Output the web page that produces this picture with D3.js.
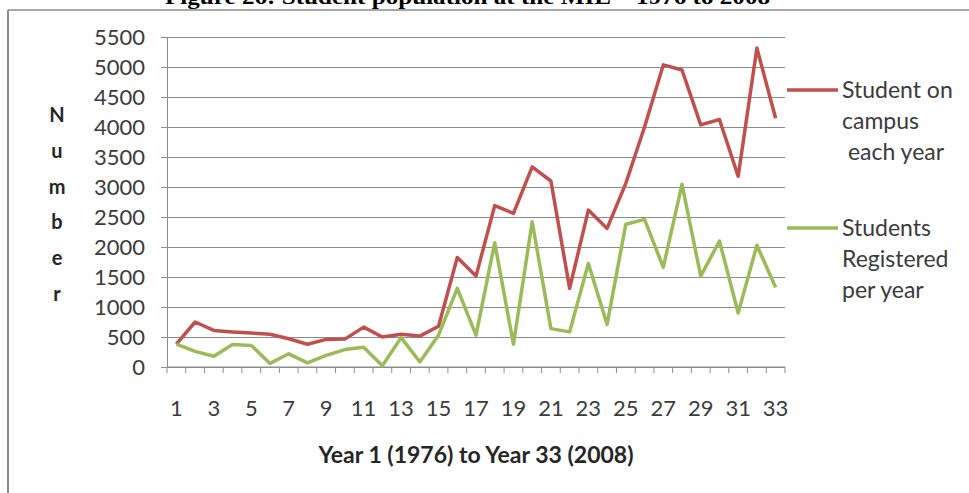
<!DOCTYPE html>
<html>
<head>
<meta charset="utf-8">
<script src="https://cdn.jsdelivr.net/npm/d3@7"></script>
<style>
  body { margin: 0; background: #fff; }
  svg { display: block; }
</style>
</head>
<body>
<div id="chart"></div>
<script>
// values
const years = d3.range(1, 34);
const onCampus = [380, 750, 610, 585, 565, 545, 470, 380, 460, 465, 665, 500, 545, 515, 680,
    1825, 1515, 2690, 2560, 3335, 3100, 1310, 2615, 2310, 3060, 4000, 5035, 4950, 4035, 4125,
    3180, 5315, 4145];
const registered = [380, 260, 180, 375, 360, 60, 220, 70, 195, 290, 330, 20, 490, 85, 530,
    1310, 530, 2070, 380, 2420, 640, 585, 1725, 710, 2380, 2460, 1660, 3045, 1515, 2100,
    900, 2030, 1325];
const yTicks = d3.range(0, 5501, 500);
const xLabels = years.filter((d) => d % 2 === 1);
const seriesNames = [['Student on', 'campus', '\u00a0each year'], ['Students', 'Registered', 'per year']];
const seriesColors = ['#c0504d', '#9bbb59'];
const yTitle = ['N', 'u', 'm', 'b', 'e', 'r'];

const width = 969;
const height = 493;
const font = 'Lato, "Open Sans", sans-serif';
const textColor = '#3b3b3b';

const svg = d3.select('#chart')
    .append('svg')
    .attr('width', width)
    .attr('height', height);

// frame and the caption above it (cut off at the top, as in the source)
svg.append('line')
    .attr('x1', 8).attr('x2', 8).attr('y1', 10).attr('y2', height)
    .style('stroke', '#8a8a8a').style('stroke-width', 2);
svg.append('line')
    .attr('x1', 8).attr('x2', width).attr('y1', 10).attr('y2', 10)
    .style('stroke', '#8a8a8a').style('stroke-width', 1.5);
svg.append('text')
    .attr('x', 165).attr('y', 4)
    .attr('textLength', 605)
    .attr('lengthAdjust', 'spacingAndGlyphs')
    .style('font-family', '"Liberation Serif", serif')
    .style('font-weight', 'bold')
    .style('font-size', '22px')
    .text('Figure 26: Student population at the MIE \u2013 1976 to 2008');

const xScale = d3.scaleBand().domain(years).range([167, 785]);
const yScale = d3.scaleLinear().domain([0, 5500]).range([367, 37]);
const cx = (d) => xScale(d) + xScale.bandwidth() / 2;

// gridlines
svg.append('g')
    .attr('class', 'gridlines')
    .attr('transform', 'translate(167, 0)')
    .call(d3.axisLeft(yScale).tickValues(yTicks).tickFormat('').tickSize(-618).tickSizeOuter(0))
    .call((g) => g.select('.domain').remove())
    .selectAll('line')
    .style('stroke', '#8c8c8c');

// y axis
const yAxis = svg.append('g')
    .attr('transform', 'translate(167, 0)')
    .call(d3.axisLeft(yScale).tickValues(yTicks).tickFormat(d3.format('d'))
        .tickSize(6).tickSizeOuter(0).tickPadding(16));
yAxis.select('.domain').style('stroke', '#8c8c8c');
yAxis.selectAll('line').style('stroke', '#8c8c8c');
yAxis.selectAll('text')
    .style('font-family', font)
    .style('font-size', '22px')
    .style('fill', textColor);

// x axis: ticks between categories, labels every other year
const xAxis = svg.append('g').attr('transform', 'translate(0, 367)');
xAxis.append('line')
    .attr('x1', 167).attr('x2', 785)
    .style('stroke', '#8c8c8c');
xAxis.selectAll('line.tick')
    .data(years.concat([34]))
    .join('line')
    .attr('class', 'tick')
    .attr('x1', (d) => d === 34 ? 785 : xScale(d))
    .attr('x2', (d) => d === 34 ? 785 : xScale(d))
    .attr('y1', 0).attr('y2', 6)
    .style('stroke', '#8c8c8c');
xAxis.selectAll('text')
    .data(xLabels)
    .join('text')
    .attr('x', cx)
    .attr('y', 49)
    .attr('text-anchor', 'middle')
    .style('font-family', font)
    .style('font-size', '22px')
    .style('fill', textColor)
    .text((d) => d);

// axis titles
svg.append('text')
    .attr('x', 476).attr('y', 463)
    .attr('text-anchor', 'middle')
    .style('font-family', font)
    .style('font-weight', 'bold')
    .style('font-size', '23px')
    .style('fill', '#262626')
    .text('Year 1 (1976) to Year 33 (2008)');

svg.append('g')
    .selectAll('text')
    .data(yTitle)
    .join('text')
    .attr('x', 57)
    .attr('y', (d, i) => 122 + i * 35.8)
    .attr('text-anchor', 'middle')
    .style('font-family', font)
    .style('font-weight', 'bold')
    .style('font-size', '20px')
    .style('fill', '#262626')
    .text((d) => d);

// lines
const line = d3.line()
    .x((d, i) => cx(years[i]))
    .y((d) => yScale(d));

[onCampus, registered].forEach((values, k) => {
    svg.append('path')
        .datum(values)
        .attr('d', line)
        .style('fill', 'none')
        .style('stroke', seriesColors[k])
        .style('stroke-width', 3.5)
        .style('stroke-linejoin', 'round');
});

// legend
const legendY = [90, 228];
seriesNames.forEach((lines, k) => {
    const g = svg.append('g').attr('transform', `translate(0, ${legendY[k]})`);
    g.append('line')
        .attr('x1', 787).attr('x2', 838)
        .style('stroke', seriesColors[k])
        .style('stroke-width', 3.5);
    g.selectAll('text')
        .data(lines)
        .join('text')
        .attr('x', 842)
        .attr('y', (d, i) => 8 + i * 31)
        .style('font-family', font)
        .style('font-size', '23px')
        .style('fill', textColor)
        .text((d) => d);
});
</script>
</body>
</html>
